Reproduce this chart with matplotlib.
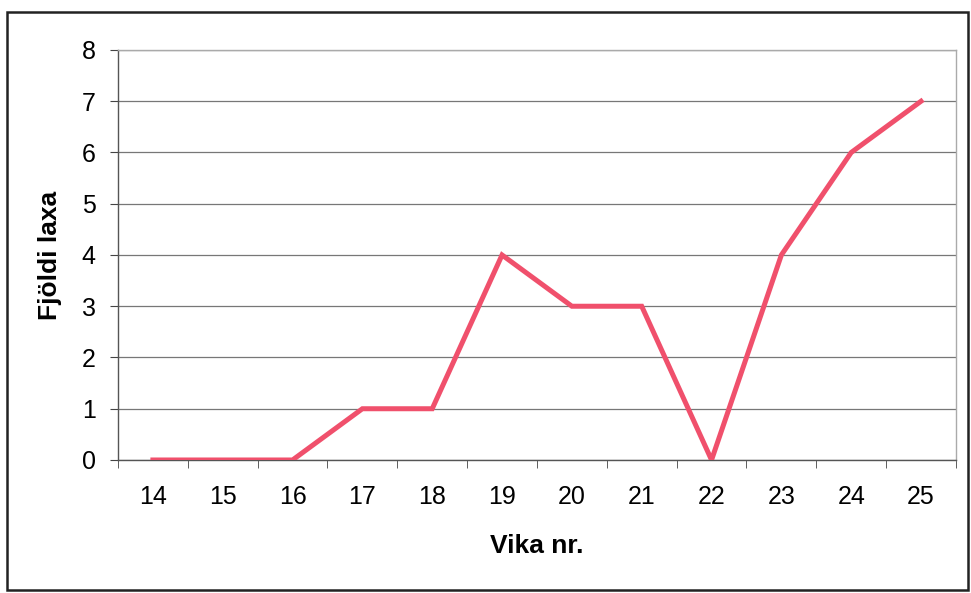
import matplotlib.pyplot as plt
from matplotlib.patches import Rectangle

weeks = ['14', '15', '16', '17', '18', '19', '20', '21', '22', '23', '24', '25']
fish = [0, 0, 0, 1, 1, 4, 3, 3, 0, 4, 6, 7]

plt.rcParams['font.family'] = ['Liberation Sans', 'DejaVu Sans']

fig = plt.figure(figsize=(9.71, 5.93), dpi=100)
ax = fig.add_axes([0.1215, 0.2243, 0.863, 0.6914])

x = range(len(weeks))
ax.plot(x, fish, color='#f0506c', linewidth=3.6, solid_joinstyle='miter', zorder=3)

ax.set_xlim(-0.5, len(weeks) - 0.5)
ax.set_ylim(0, 8)
ax.set_yticks(range(0, 9))
ax.set_xticks(x)
ax.set_xticklabels(weeks)
ax.set_xticks([i - 0.5 for i in range(len(weeks) + 1)], minor=True)
ax.tick_params(axis='x', which='major', length=0, pad=18, labelsize=18)
ax.tick_params(axis='x', which='minor', length=6, direction='out', color='#444444')
ax.tick_params(axis='y', length=6, direction='out', color='#444444', pad=10, labelsize=18)

ax.grid(axis='y', color='#777777', linewidth=0.9)
ax.set_axisbelow(True)
for side in ['top', 'right']:
    ax.spines[side].set_color('#aaaaaa')
    ax.spines[side].set_linewidth(1)
for side in ['left', 'bottom']:
    ax.spines[side].set_color('#555555')
    ax.spines[side].set_linewidth(1)

ax.set_xlabel('Vika nr.', fontsize=19, fontweight='bold', labelpad=18)
ax.set_ylabel('Fjöldi laxa', fontsize=19, fontweight='bold', labelpad=14)

# outer chart frame
fig.patches.append(Rectangle((0.007, 0.005), 0.99, 0.975, transform=fig.transFigure,
                             fill=False, edgecolor='#222222', linewidth=1.8))

fig.savefig('out.png', dpi=100)
